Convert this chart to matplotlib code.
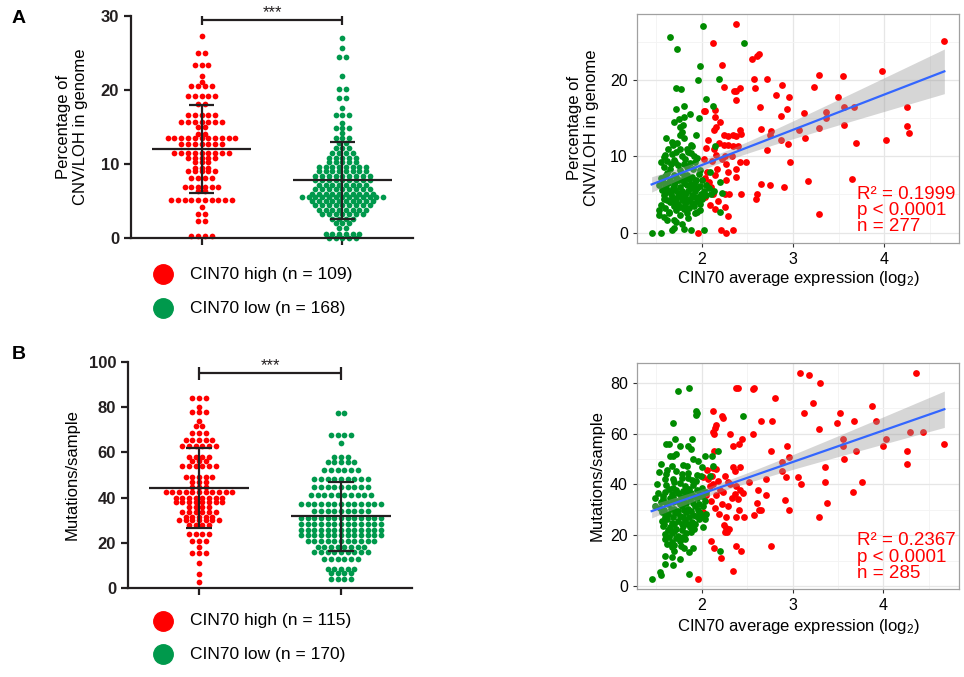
import numpy as np
import matplotlib.pyplot as plt
from matplotlib.lines import Line2D

plt.rcParams['font.family'] = ['Liberation Sans', 'DejaVu Sans']
plt.rcParams['mathtext.fontset'] = 'custom'
plt.rcParams['mathtext.rm'] = 'Liberation Sans'
plt.rcParams['mathtext.it'] = 'Liberation Sans'

RED = '#ff0000'
SW_GREEN = '#00994c'
PT_GREEN = '#008b00'
INK = '#231f20'

# ---- swarm data: row level and number of dots in that row ----
cnv_high_levels = [27.3, 25.0, 23.3, 21.9, 21.1, 20.5, 19.1, 18.1, 16.6, 15.7, 15.0, 14.0, 13.5, 12.7,
                   11.5, 10.8, 10.2, 9.5, 9.0, 8.1, 6.9, 6.3, 5.1, 4.2, 3.2, 2.3, 0.2]
cnv_high_counts = [1, 2, 3, 1, 1, 4, 5, 2, 5, 7, 2, 2, 11, 7, 9, 5, 3, 3, 5, 4, 6, 2, 10, 1, 2, 2, 4]

cnv_low_levels = [27.0, 25.6, 24.4, 21.8, 20.1, 18.9, 17.5, 16.6, 15.5, 14.9, 14.1, 13.5, 12.8, 12.1, 11.4,
                  10.8, 10.2, 9.6, 9.0, 8.4, 7.8, 7.2, 6.6, 6.0, 5.5, 5.0, 4.4, 3.8, 3.2, 2.6, 2.0, 1.3, 0.6, 0.05]
cnv_low_counts = [1, 1, 2, 1, 2, 2, 1, 3, 1, 3, 1, 3, 2, 3, 4,
                  5, 5, 8, 8, 9, 9, 8, 9, 10, 13, 10, 9, 8, 7, 4, 3, 2, 6, 5]

mut_high_levels = [84.0, 80.2, 78.0, 74.0, 71.8, 68.5, 65.5, 63.0, 58.0, 56.0, 54.0, 49.0, 47.0, 44.8, 42.5,
                   39.8, 38.0, 35.8, 33.6, 31.6, 30.0, 27.9, 23.9, 21.0, 18.1, 15.5, 11.0, 6.2, 2.8]
mut_high_counts = [3, 1, 3, 1, 2, 3, 5, 6, 4, 3, 6, 5, 3, 3, 11,
                   8, 8, 4, 6, 5, 7, 4, 4, 3, 1, 3, 1, 1, 1]

mut_low_levels = [77.4, 67.7, 64.2, 58.0, 55.8, 52.2, 48.2, 44.7, 41.2, 37.2, 34.0, 31.0, 28.3, 25.7, 23.5,
                  20.8, 18.1, 15.9, 12.8, 8.4, 6.6, 4.0]
mut_low_counts = [2, 4, 1, 3, 5, 6, 9, 9, 10, 13, 9, 13, 13, 13, 13, 11, 8, 9, 6, 5, 4, 4]

# ---- scatter data: CIN70 expression (log2) vs percentage CNV/LOH ----
cnv_red_x = [2.38, 2.12, 4.66, 2.55, 2.61, 2.63, 2.22, 2.57, 2.72, 3.28, 3.55, 3.98, 2.24, 2.35, 2.38, 2.42,
             2.58, 2.88, 3.23, 2.81, 2.96, 2.38, 3.49, 2.64, 2.93, 2.02, 2.04, 2.14, 3.12, 2.87, 2.15, 3.36,
             3.36, 3.56, 3.67, 4.25, 2.16, 2.13, 2.65, 2.76, 2.75, 3.07, 3.29, 3.56, 4.25, 4.27, 2.24, 2.29,
             2.34, 2.38, 2.43, 2.42, 3.13, 2.87, 3.69, 4.02, 2.24, 2.29, 2.34, 2.40, 2.95, 2.05, 2.13, 2.71,
             2.16, 2.25, 2.33, 2.02, 2.22, 2.42, 2.48, 2.97, 2.27, 2.17, 2.38, 2.29, 2.15, 2.38, 3.65, 3.17,
             2.27, 2.08, 2.65, 2.75, 2.90, 2.12, 2.25, 2.30, 2.43, 2.61, 2.59, 2.15, 2.25, 2.29, 3.28, 2.21,
             2.26, 2.34, 1.96, 2.06, 2.10, 2.04, 2.11, 2.07, 2.19, 2.03, 2.18, 2.09, 2.20]
cnv_red_y = [27.3, 24.8, 25.1, 22.8, 23.2, 23.4, 22.0, 20.2, 20.1, 20.7, 20.5, 21.2, 19.1, 18.5, 18.6, 18.9,
             18.9, 19.4, 19.1, 18.0, 17.8, 17.4, 17.8, 16.5, 16.2, 15.9, 15.9, 16.1, 15.7, 15.3, 15.2, 15.8,
             15.0, 16.4, 16.5, 16.5, 13.8, 13.4, 13.6, 13.3, 12.8, 13.4, 13.7, 14.1, 14.0, 13.1, 12.8, 12.7,
             12.8, 12.6, 12.9, 13.4, 12.4, 12.1, 11.8, 12.1, 11.5, 11.5, 11.4, 11.4, 11.6, 11.1, 10.9, 10.8,
             10.2, 10.0, 10.0, 9.7, 9.6, 9.2, 9.2, 9.2, 9.0, 8.4, 8.3, 8.0, 7.6, 7.3, 7.0, 6.8,
             6.9, 6.6, 6.4, 6.2, 6.0, 5.1, 5.1, 5.1, 5.1, 5.1, 4.4, 3.1, 3.4, 2.2, 2.4, 0.3,
             0.0, 0.4, 0.0, 8.0, 6.0, 4.6, 9.4, 12.2, 11.8, 7.1, 4.2, 3.6, 14.5]

cnv_green_x = [2.01, 1.65, 1.73, 2.46, 1.98, 1.96, 2.19, 1.72, 1.77, 2.05, 2.12, 1.72, 1.80, 1.97, 1.87, 1.69,
               1.75, 1.80, 1.76, 1.79, 1.78, 1.76, 1.94, 1.61, 1.67, 1.68, 1.80, 1.73, 1.88, 1.89, 2.15, 1.76,
               1.84, 1.60, 1.67, 1.69, 1.85, 1.91, 1.82, 1.55, 1.62, 1.71, 1.87, 1.93, 1.84, 1.58, 1.65, 1.76,
               1.98, 2.09, 1.62, 1.69, 1.84, 1.89, 1.55, 1.65, 1.75, 1.80, 1.94, 2.20,
               1.53, 1.60, 1.69, 1.76, 1.84, 1.91, 1.98, 2.05,
               1.56, 1.64, 1.71, 1.78, 1.85, 1.93, 2.02, 2.22, 2.13,
               1.58, 1.67, 1.75, 1.82, 1.89, 1.96, 2.05,
               1.62, 1.71, 1.78, 1.85, 1.95,
               1.55, 1.69, 1.76, 1.91,
               1.53, 1.64, 1.80, 1.95,
               1.53, 1.64, 1.84, 1.98, 2.20,
               1.69, 1.72,
               1.45, 1.55, 1.67, 1.80, 2.02,
               1.63, 1.72, 1.78, 1.88, 1.95, 1.58, 1.66, 1.74, 1.81, 1.90, 1.97, 1.60, 1.72, 1.78, 1.86, 1.93,
               2.00, 1.57, 1.63, 1.71, 1.80, 1.88, 1.95, 2.08, 1.61, 1.68, 1.74, 1.82, 1.88, 1.99, 2.10, 1.60,
               1.66, 1.72, 1.80, 1.87, 1.92, 2.00, 1.59, 1.65, 1.74, 1.82, 1.89, 1.98, 1.60, 1.72, 1.86, 1.92,
               1.76, 1.62, 1.85, 1.58, 1.78, 1.70, 1.88]
cnv_green_y = [27.1, 25.7, 24.1, 24.8, 21.8, 20.0, 20.1, 19.0, 18.8, 17.5, 16.6, 16.2, 16.6, 15.0, 15.5, 14.5,
               14.9, 15.1, 13.9, 14.1, 13.2, 12.8, 12.8, 12.4, 11.9, 11.5, 12.4, 11.8, 11.5, 11.3, 11.3, 11.0,
               10.9, 10.2, 10.3, 9.5, 10.5, 10.0, 9.7, 9.3, 9.4, 9.3, 9.1, 9.2, 8.6, 8.6, 8.4, 8.2,
               8.2, 7.9, 7.8, 7.6, 7.6, 7.3, 7.1, 6.9, 6.9, 7.1, 6.9, 6.6,
               6.2, 6.0, 6.2, 6.0, 6.2, 6.0, 6.1, 6.2,
               5.6, 5.4, 5.6, 5.4, 5.5, 5.4, 5.5, 5.2, 5.4,
               4.9, 4.7, 4.8, 4.9, 4.9, 4.7, 4.9,
               4.3, 4.1, 4.3, 4.1, 4.1,
               3.6, 3.5, 3.4, 3.5,
               2.9, 2.7, 3.1, 2.7,
               2.3, 2.5, 2.5, 2.9, 2.7,
               1.7, 1.4,
               0.0, 0.0, 0.3, 0.5, 0.4,
               11.0, 10.6, 10.1, 10.4, 9.8, 9.9, 9.0, 8.8, 9.0, 8.4, 7.7, 7.4, 7.3, 7.8, 7.0, 6.6,
               6.9, 6.6, 6.5, 6.6, 6.5, 6.4, 5.8, 5.9, 5.9, 5.8, 5.2, 5.1, 5.9, 5.0, 5.0, 5.2,
               5.0, 4.5, 4.5, 4.4, 4.6, 4.4, 4.4, 4.0, 3.8, 3.8, 3.9, 3.8, 3.2, 3.0, 3.2, 2.6,
               2.3, 1.6, 1.9, 2.0, 1.1, 0.6, 0.4]

# ---- scatter data: CIN70 expression (log2) vs mutations per sample ----
mut_red_x = [3.08, 3.18, 4.36, 3.30, 2.38, 2.40, 2.56, 2.58, 2.81, 3.22, 3.87, 2.12, 3.13, 3.52, 2.22, 2.24,
             2.65, 2.77, 3.49, 3.68, 3.92, 2.16, 2.15, 3.29, 2.12, 2.14, 2.31, 2.57, 4.29, 4.44, 4.67, 2.44,
             3.56, 4.03, 2.35, 2.41, 2.94, 3.55, 3.99, 2.14, 2.76, 3.70, 4.26, 2.96, 3.57, 2.88, 4.26, 2.13,
             2.16, 2.34, 2.37, 2.42, 2.88, 3.36, 2.02, 2.07, 2.11, 2.26, 2.71, 2.93, 3.06, 2.13, 2.09, 2.20,
             2.29, 2.31, 2.42, 2.38, 3.09, 3.36, 3.76, 2.62, 3.66, 2.16, 2.37, 2.40, 2.71, 2.22, 2.29, 2.15,
             2.61, 3.38, 2.41, 2.63, 2.65, 2.96, 2.92, 2.58, 2.38, 2.47, 2.27, 3.29, 2.25, 2.27, 2.26, 2.28,
             2.30, 2.10, 2.76, 2.38, 2.14, 2.43, 2.21, 2.35, 1.96, 2.05, 2.10, 2.02, 2.18, 2.24, 2.06, 2.33,
             2.19, 2.52, 2.46]
mut_red_y = [83.9, 83.0, 83.9, 80.0, 78.0, 78.0, 77.4, 78.0, 73.9, 71.9, 70.9, 68.9, 68.0, 68.0, 67.1, 66.1,
             65.0, 65.0, 64.1, 65.0, 65.0, 63.5, 62.2, 61.9, 60.5, 59.9, 59.9, 59.9, 60.8, 60.8, 55.9, 57.8,
             57.8, 57.8, 55.0, 55.9, 55.0, 55.0, 55.0, 53.0, 53.0, 53.0, 53.0, 50.8, 50.0, 48.9, 48.1, 46.5,
             45.9, 46.9, 45.2, 46.9, 45.2, 46.9, 42.9, 42.0, 43.3, 43.5, 42.0, 42.9, 43.0, 40.0, 39.3, 38.0,
             40.9, 40.0, 38.0, 39.3, 40.0, 40.9, 40.9, 38.0, 37.0, 35.8, 36.1, 34.1, 35.8, 32.2, 31.5, 30.9,
             32.8, 32.8, 30.0, 30.0, 30.0, 30.0, 33.9, 28.0, 27.0, 27.0, 27.0, 27.0, 24.0, 22.7, 21.4, 21.1,
             22.4, 17.9, 15.9, 15.9, 14.9, 13.9, 10.9, 6.1, 2.9, 36.0, 33.5, 29.0, 41.5, 37.0, 45.5, 34.5,
             28.5, 41.0, 36.5]

mut_green_x = [1.86, 1.74, 2.46, 1.94, 1.95, 1.94, 1.68, 1.89, 1.71, 1.61, 1.64, 1.76, 1.85, 1.88, 2.18, 1.65,
               1.68, 1.72, 1.91, 1.96, 2.04, 2.11, 1.55, 1.67, 1.80, 1.84, 2.00, 2.12,
               1.53, 1.61, 1.72, 1.85, 1.95, 1.99,
               1.60, 1.68, 1.78, 1.89, 2.09,
               1.51, 1.61, 1.69, 1.76, 1.82, 1.91, 2.00,
               1.52, 1.60, 1.67, 1.74, 1.83, 1.88, 1.98, 2.05,
               1.49, 1.58, 1.65, 1.73, 1.80, 1.87, 1.95, 2.04,
               1.49, 1.54, 1.63, 1.70, 1.78, 1.85, 1.93, 2.02,
               1.56, 1.63, 1.71, 1.76, 1.83, 1.91, 1.98, 2.05,
               1.56, 1.62, 1.67, 1.74, 1.82, 1.89, 1.97, 2.04,
               1.58, 1.65, 1.72, 1.80, 1.87, 2.01,
               1.60, 1.67, 1.74, 1.83, 1.88,
               1.60, 1.67, 1.76, 1.82,
               1.67, 1.70, 1.81, 1.86, 1.91, 2.20,
               1.60, 1.67, 1.76,
               1.60, 1.69, 1.86, 1.54, 1.55, 1.45,
               1.62, 1.78, 1.70, 1.85, 1.94, 1.64, 1.72, 1.80, 1.86, 1.95, 1.57, 1.68, 1.77, 1.84, 1.92, 2.00,
               1.55, 1.61, 1.68, 1.76, 1.83, 1.90, 1.97, 1.59, 1.66, 1.74, 1.81, 1.88, 1.96, 1.60, 1.68, 1.79,
               1.86, 1.94, 2.01, 1.59, 1.70, 1.78, 1.85, 1.93, 1.63, 1.70, 1.78, 1.92, 1.64, 1.72, 1.79, 1.70,
               1.77, 1.62]
mut_green_y = [78.0, 76.9, 67.0, 68.9, 68.0, 67.2, 64.1, 57.8, 57.8, 55.9, 55.9, 55.0, 55.0, 54.1, 53.0, 51.1,
               51.3, 52.0, 50.0, 49.1, 51.1, 51.1, 48.1, 47.2, 47.8, 47.4, 46.8, 47.2,
               45.0, 44.3, 45.3, 44.6, 43.9, 43.3,
               42.0, 42.3, 42.7, 41.8, 43.5,
               40.0, 39.6, 38.7, 40.4, 39.3, 39.6, 38.7,
               36.5, 37.2, 36.3, 36.8, 35.8, 36.5, 36.3, 37.2,
               34.8, 34.1, 34.8, 33.5, 34.1, 34.1, 34.8, 33.5,
               31.5, 30.9, 32.2, 30.5, 31.5, 30.5, 31.5, 31.5,
               29.0, 28.3, 28.7, 27.7, 29.2, 27.9, 28.9, 28.3,
               25.7, 26.3, 25.0, 25.7, 26.1, 25.3, 26.3, 26.3,
               23.8, 23.1, 22.5, 23.6, 23.1, 23.1,
               20.5, 20.7, 19.8, 20.7, 21.1,
               18.5, 17.5, 17.9, 18.5,
               15.3, 14.0, 14.9, 13.4, 14.9, 14.0,
               12.0, 11.4, 10.7,
               8.7, 8.3, 4.8, 5.5, 4.2, 2.9,
               45.6, 44.0, 41.0, 42.5, 41.2, 38.2, 38.0, 37.5, 38.3, 37.8, 35.6, 35.2, 35.0, 36.9, 35.3, 35.6,
               33.0, 32.8, 33.0, 32.5, 32.9, 32.6, 32.2, 30.0, 30.2, 29.5, 30.0, 29.7, 29.9, 27.3, 27.0, 27.3,
               27.0, 27.5, 27.3, 24.6, 24.3, 24.6, 24.4, 24.6, 22.0, 21.5, 22.0, 22.3, 19.2, 18.8, 19.5, 16.3,
               15.8, 16.7]


def swarm(ax, center, levels, counts, color, dx):
    for lv, n in zip(levels, counts):
        xs = center + (np.arange(n) - (n - 1) / 2) * dx
        ax.scatter(xs, np.full(n, lv), s=17, color=color, lw=0, clip_on=False, zorder=2)
    vals = np.repeat(levels, counts)
    m, sd = vals.mean(), vals.std(ddof=1)
    kw = dict(color=INK, lw=1.6, zorder=3, solid_capstyle='butt')
    ax.plot([center - 0.35, center + 0.35], [m, m], **kw)
    ax.plot([center, center], [m - sd, m + sd], **kw)
    for y in (m - sd, m + sd):
        ax.plot([center - 0.09, center + 0.09], [y, y], **kw)


def style_swarm(ax, ymax, step):
    for s in ('top', 'right'):
        ax.spines[s].set_visible(False)
    for s in ('left', 'bottom'):
        ax.spines[s].set_color(INK)
        ax.spines[s].set_linewidth(1.6)
    ax.set_ylim(0, ymax)
    ax.set_xlim(-0.5, 1.5)
    ax.set_yticks(np.arange(0, ymax + 1, step))
    ax.set_xticks([0, 1])
    ax.set_xticklabels([])
    ax.tick_params(direction='out', length=5, width=1.6, color=INK)
    for lab in ax.get_yticklabels():
        lab.set_fontweight('bold')
        lab.set_fontsize(12)
        lab.set_color(INK)


def bracket(ax, y, h, ystar):
    kw = dict(color=INK, lw=1.6, clip_on=False, solid_capstyle='butt')
    ax.plot([0, 1], [y, y], **kw)
    ax.plot([0, 0], [y - h, y + h], **kw)
    ax.plot([1, 1], [y - h, y + h], **kw)
    ax.text(0.5, ystar, '***', ha='center', va='center', fontsize=12, color=INK)


def scatter_panel(ax, rx, ry, gx, gy, yticks, yminor, note):
    ax.scatter(rx, ry, s=24, color=RED, lw=0, zorder=2)
    ax.scatter(gx, gy, s=24, color=PT_GREEN, lw=0, zorder=2)
    x = np.concatenate([rx, gx])
    y = np.concatenate([ry, gy])
    b, a = np.polyfit(x, y, 1)
    n = len(x)
    resid = y - (a + b * x)
    s = np.sqrt(np.sum(resid ** 2) / (n - 2))
    xs = np.linspace(x.min(), x.max(), 100)
    se = s * np.sqrt(1 / n + (xs - x.mean()) ** 2 / np.sum((x - x.mean()) ** 2))
    fit = a + b * xs
    ax.fill_between(xs, fit - 1.97 * se, fit + 1.97 * se, color='#999999', alpha=0.4, lw=0, zorder=3)
    ax.plot(xs, fit, color='#3366ff', lw=1.6, zorder=4)
    xr = x.max() - x.min()
    yr = y.max() - y.min()
    ax.set_xlim(x.min() - 0.05 * xr, x.max() + 0.05 * xr)
    ax.set_ylim(y.min() - 0.05 * yr, y.max() + 0.05 * yr)
    ax.set_xticks([2, 3, 4])
    ax.set_xticks([1.5, 2.5, 3.5, 4.5], minor=True)
    ax.set_yticks(yticks)
    ax.set_yticks(yminor, minor=True)
    ax.grid(True, which='major', color='#e6e6e6', lw=0.9)
    ax.grid(True, which='minor', color='#f3f3f3', lw=0.6)
    ax.set_axisbelow(True)
    for sp in ax.spines.values():
        sp.set_color('#a0a0a0')
        sp.set_linewidth(0.9)
    ax.tick_params(which='major', length=3, width=0.8, color='#333333', labelsize=11.5, labelcolor='black')
    ax.tick_params(which='minor', length=0)
    ax.text(0.682, 0.25, note, transform=ax.transAxes, color=RED, fontsize=13.5,
            ha='left', va='top', linespacing=0.95, zorder=5)


fig = plt.figure(figsize=(9.64, 6.77), dpi=100)

# ---------- A: swarm ----------
ax1 = fig.add_axes([0.1359, 0.6485, 0.2925, 0.3284])
swarm(ax1, 0, cnv_high_levels, cnv_high_counts, RED, 0.048)
swarm(ax1, 1, cnv_low_levels, cnv_low_counts, SW_GREEN, 0.048)
style_swarm(ax1, 30, 10)
bracket(ax1, 29.4, 0.6, 30.4)
fig.text(72 / 964, 1 - 127 / 677, 'Percentage of\nCNV/LOH in genome', rotation=90,
         ha='center', va='center', fontsize=12)

# ---------- B: swarm ----------
ax2 = fig.add_axes([0.1328, 0.1315, 0.2946, 0.3338])
swarm(ax2, 0, mut_high_levels, mut_high_counts, RED, 0.047)
swarm(ax2, 1, mut_low_levels, mut_low_counts, SW_GREEN, 0.047)
style_swarm(ax2, 100, 20)
bracket(ax2, 95, 2.8, 98.3)
fig.text(72 / 964, 1 - 475 / 677, 'Mutations/sample', rotation=90,
         ha='center', va='center', fontsize=12)

# legends
for yy, col, lab in [(274, RED, 'CIN70 high (n = 109)'), (308, SW_GREEN, 'CIN70 low (n = 168)'),
                     (621, RED, 'CIN70 high (n = 115)'), (654, SW_GREEN, 'CIN70 low (n = 170)')]:
    fig.add_artist(Line2D([163 / 964], [1 - yy / 677], marker='o', ms=14, color=col, lw=0,
                          transform=fig.transFigure))
    fig.text(190 / 964, 1 - yy / 677, lab, ha='left', va='center', fontsize=12.5)

# ---------- A: scatter ----------
ax3 = fig.add_axes([0.6608, 0.6411, 0.334, 0.3383])
scatter_panel(ax3, cnv_red_x, cnv_red_y, cnv_green_x, cnv_green_y, [0, 10, 20], [5, 15, 25],
              'R\u00b2 = 0.1999\np < 0.0001\nn = 277')
fig.text(583 / 964, 1 - 128 / 677, 'Percentage of\nCNV/LOH in genome', rotation=90,
         ha='center', va='center', fontsize=12)
fig.text(798 / 964, 1 - 279 / 677, 'CIN70 average expression (log$_2$)', ha='center', va='center', fontsize=12)

# ---------- B: scatter ----------
ax4 = fig.add_axes([0.6608, 0.130, 0.334, 0.3343])
scatter_panel(ax4, mut_red_x, mut_red_y, mut_green_x, mut_green_y, [0, 20, 40, 60, 80], [10, 30, 50, 70],
              'R\u00b2 = 0.2367\np < 0.0001\nn = 285')
fig.text(597 / 964, 1 - 476 / 677, 'Mutations/sample', rotation=90, ha='center', va='center', fontsize=12)
fig.text(798 / 964, 1 - 627 / 677, 'CIN70 average expression (log$_2$)', ha='center', va='center', fontsize=12)

fig.text(12 / 964, 1 - 10 / 677, 'A', fontsize=14, fontweight='bold', ha='left', va='top')
fig.text(12 / 964, 1 - 346 / 677, 'B', fontsize=14, fontweight='bold', ha='left', va='top')

fig.savefig('out.png', dpi=100)
